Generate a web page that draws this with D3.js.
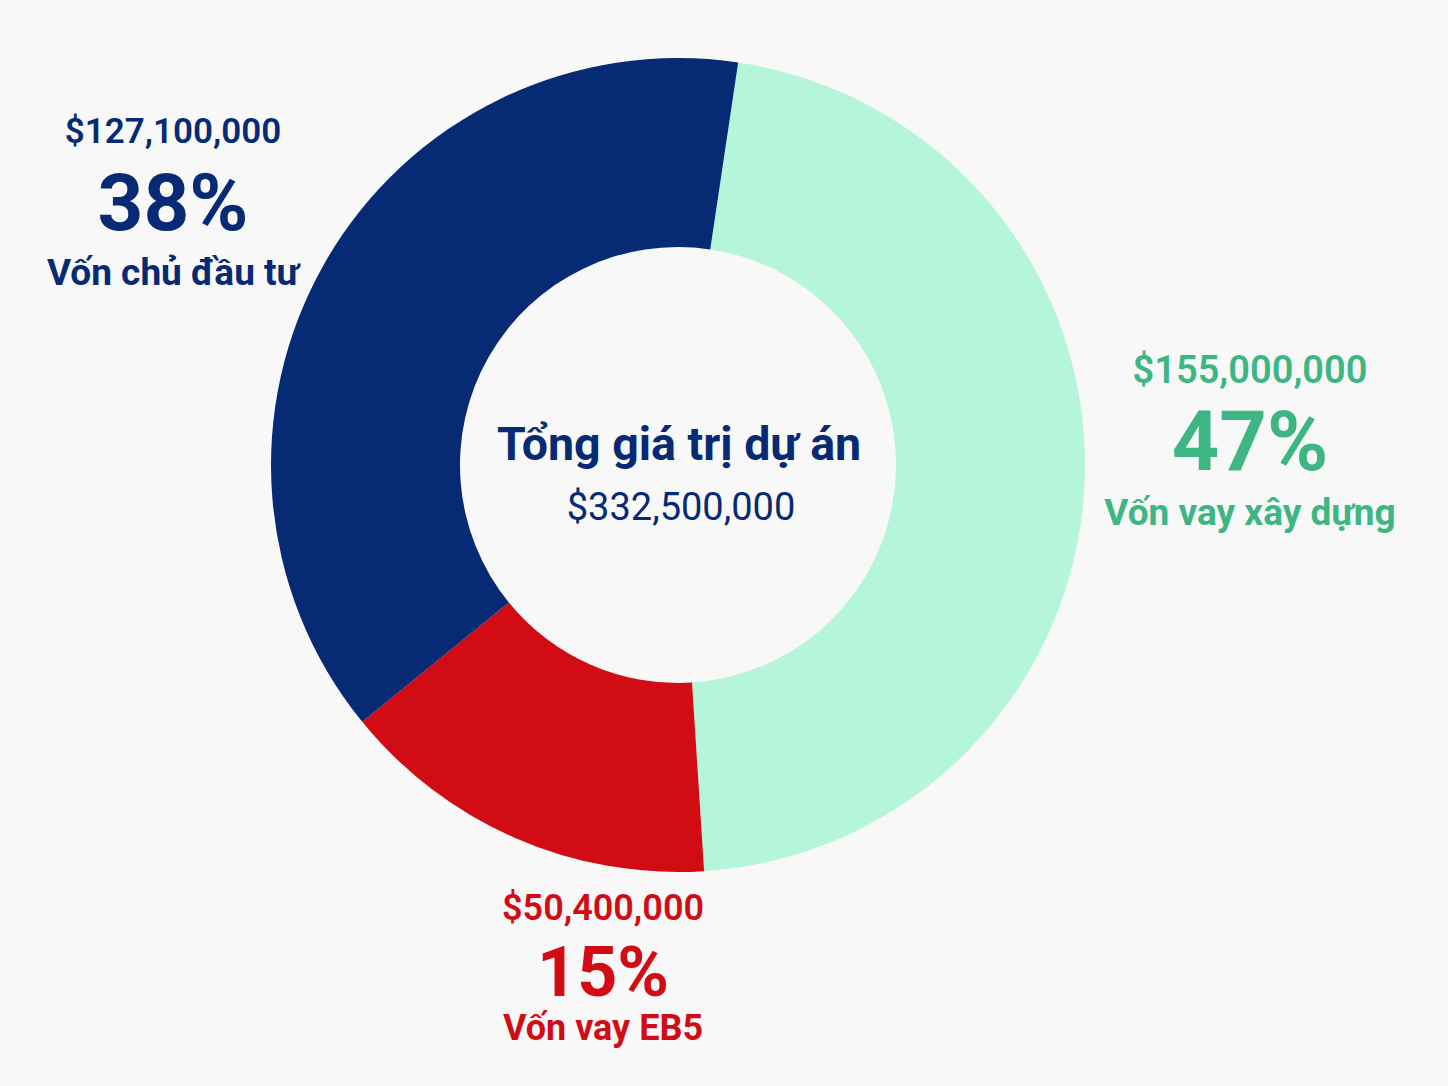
<!DOCTYPE html>
<html>
<head>
<meta charset="utf-8">
<script src="https://cdn.jsdelivr.net/npm/d3@7"></script>
<style>
  html, body { margin: 0; padding: 0; background: #f8f8f8; }
  svg { display: block; font-family: Roboto, "Noto Sans", sans-serif; }
</style>
</head>
<body>
<div id="chart"></div>
<script>
const width = 1448;
const height = 1086;

// data
const categories = ["Vốn vay xây dựng", "Vốn vay EB5", "Vốn chủ đầu tư"];
const amounts = [155000000, 50400000, 127100000];
const percents = ["47%", "15%", "38%"];
const totalLabel = "Tổng giá trị dự án";
const totalValue = 332500000;

const sliceColors = ["#b5f5da", "#d10c14", "#062a73"];
const textColors = ["#3db683", "#d10c14", "#062a73"];
// label block layout: center x, baseline of first line, font sizes, line offsets
const labelPos = [[1250, 383], [603, 920], [173, 143]];
const amountSize = [38, 36, 35];
const pctSize = [83, 70, 80];
const pctOffset = [87, 76, 87];
const nameSize = [37, 36, 37];
const nameOffset = [142, 120, 142];

const fmt = (v) => "$" + d3.format(",")(v);

const svg = d3
  .select("#chart")
  .append("svg")
  .attr("width", width)
  .attr("height", height)
  .attr("viewBox", `0 0 ${width} ${height}`);

const cx = 678;
const cy = 465;
const outerR = 407;
const innerR = 218;
const start = (8.5 * Math.PI) / 180;

const pie = d3
  .pie()
  .sort(null)
  .startAngle(start)
  .endAngle(start + 2 * Math.PI);

const arc = d3.arc().innerRadius(innerR).outerRadius(outerR);

const g = svg.append("g").attr("transform", `translate(${cx},${cy})`);

g.selectAll("path")
  .data(pie(amounts))
  .enter()
  .append("path")
  .attr("d", arc)
  .attr("fill", (d, i) => sliceColors[i]);

// center text
g.append("text")
  .attr("text-anchor", "middle")
  .attr("x", 1)
  .attr("y", -5)
  .attr("font-size", 46.5)
  .attr("font-weight", 700)
  .attr("fill", "#062a73")
  .text(totalLabel);

g.append("text")
  .attr("text-anchor", "middle")
  .attr("x", 3)
  .attr("y", 55)
  .attr("font-size", 38)
  .attr("font-weight", 400)
  .attr("fill", "#062a73")
  .text(fmt(totalValue));

// outside labels
const labels = svg
  .selectAll("g.lbl")
  .data(categories)
  .enter()
  .append("g")
  .attr("class", "lbl")
  .attr("transform", (d, i) => `translate(${labelPos[i][0]},${labelPos[i][1]})`)
  .attr("text-anchor", "middle")
  .attr("fill", (d, i) => textColors[i]);

labels
  .append("text")
  .attr("font-size", (d, i) => amountSize[i])
  .attr("font-weight", 600)
  .text((d, i) => fmt(amounts[i]));

labels
  .append("text")
  .attr("y", (d, i) => pctOffset[i])
  .attr("font-size", (d, i) => pctSize[i])
  .attr("font-weight", 700)
  .text((d, i) => percents[i]);

labels
  .append("text")
  .attr("y", (d, i) => nameOffset[i])
  .attr("font-size", (d, i) => nameSize[i])
  .attr("font-weight", 700)
  .text((d) => d);
</script>
</body>
</html>
